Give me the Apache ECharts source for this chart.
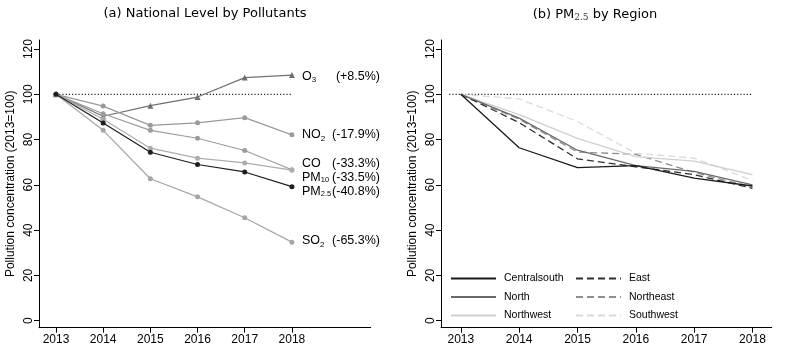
<!DOCTYPE html>
<html><head><meta charset="utf-8">
<script src="https://cdn.jsdelivr.net/npm/echarts@6/dist/echarts.min.js"></script>
<style>html,body{margin:0;padding:0;background:#fff}#c{width:786px;height:349px}</style>
</head><body><div id="c"></div><script>
// ---------- data ----------
const years = [2013, 2014, 2015, 2016, 2017, 2018];
const yTicks = [0, 20, 40, 60, 80, 100, 120];
// Panel (a): national level by pollutant (2013 = 100)
const o3   = [100, 90.3, 95.0, 98.8, 107.4, 108.5];
const no2  = [100, 94.8, 86.3, 87.4, 89.7, 82.1];
const co   = [100, 91.4, 84.1, 80.6, 75.2, 66.7];
const pm10 = [100, 89.0, 76.2, 71.8, 69.7, 66.5];
const pm25 = [100, 87.3, 74.4, 69.0, 65.7, 59.2];
const so2  = [100, 84.1, 62.7, 54.7, 45.5, 34.7];
const pollutantNames = ['O3', 'NO2', 'CO', 'PM10', 'PM2.5', 'SO2'];
const pollutantLabels = ['{n|O}{s|3}', '{n|NO}{s|2}', '{n|CO}', '{n|PM}{t|10}', '{n|PM}{t|2.5}', '{n|SO}{s|2}'];
const pollutantChanges = ['(+8.5%)', '(-17.9%)', '(-33.3%)', '(-33.5%)', '(-40.8%)', '(-65.3%)'];
// Panel (b): PM2.5 by region
const regions = ['Centralsouth', 'North', 'Northwest', 'East', 'Northeast', 'Southwest'];
const centralsouth = [100, 76.4, 67.6, 68.5, 63.0, 59.5];
const north        = [100, 89.5, 75.3, 68.5, 66.0, 60.0];
const northwest    = [100, 91.0, 80.5, 72.5, 70.5, 64.5];
const east         = [100, 87.5, 71.5, 68.0, 64.5, 58.5];
const northeast    = [100, 89.0, 74.5, 73.5, 65.5, 59.0];
const southwest    = [100, 98.0, 88.0, 74.0, 71.8, 62.0];
const refLevel = 100;
const refSpanA = [2013, 2018];
const refSpanB = [2012.8, 2018];

// ---------- chart ----------
const FONT = 'Arial';
const chart = echarts.init(document.getElementById('c'), null, {renderer: 'canvas'});
const pair = arr => arr.map((v, i) => [years[i], v]);

function xAxis(idx, min, max) {
  return {
    type: 'value', gridIndex: idx, min: min, max: max,
    axisLine: {show: true, onZero: false, lineStyle: {color: '#000', width: 1}},
    axisTick: {show: true, customValues: years, length: 5, lineStyle: {color: '#000'}},
    axisLabel: {customValues: years, color: '#000', fontFamily: FONT, fontSize: 12, margin: 6,
      formatter: v => String(v)},
    splitLine: {show: false}
  };
}
function yAxis(idx) {
  return {
    type: 'value', gridIndex: idx, min: -3.1, max: 124,
    name: 'Pollution concentration (2013=100)', nameLocation: 'middle', nameGap: 22,
    nameTextStyle: {color: '#000', fontFamily: FONT, fontSize: 12},
    axisLine: {show: true, onZero: false, lineStyle: {color: '#000', width: 1}},
    axisTick: {show: true, customValues: yTicks, length: 5, lineStyle: {color: '#000'}},
    axisLabel: {customValues: yTicks, rotate: 90, color: '#000', fontFamily: FONT, fontSize: 12, margin: 4},
    splitLine: {show: false}
  };
}

const aColors = ['#707070', '#9a9a9a', '#9c9c9c', '#adadad', '#1e1e1e', '#a6a6a6'];
const aData = [o3, no2, co, pm10, pm25, so2];
const aSeries = aData.map((d, i) => ({
  name: pollutantNames[i], type: 'line', xAxisIndex: 0, yAxisIndex: 0,
  data: pair(d), symbol: i === 0 ? 'triangle' : 'circle', symbolSize: i === 0 ? 6 : 5,
  lineStyle: {color: aColors[i], width: 1.2}, itemStyle: {color: aColors[i]},
  z: i === 4 ? 5 : 3, silent: true, animation: false
}));
const aOrdered = [aSeries[5], aSeries[0], aSeries[1], aSeries[2], aSeries[3], aSeries[4]];

const bStyles = [
  {c: '#1a1a1a', t: 'solid'}, {c: '#6a6a6a', t: 'solid'}, {c: '#cfcfcf', t: 'solid'},
  {c: '#2e2e2e', t: [7, 4]}, {c: '#8e8e8e', t: [7, 4]}, {c: '#dadada', t: [7, 4]}
];
const bData = [centralsouth, north, northwest, east, northeast, southwest];
const bSeries = bData.map((d, i) => ({
  name: regions[i], type: 'line', xAxisIndex: 1, yAxisIndex: 1,
  data: pair(d), symbol: 'none', showSymbol: false,
  lineStyle: {color: bStyles[i].c, width: 1.3, type: bStyles[i].t},
  itemStyle: {color: bStyles[i].c}, z: 10 - i, animation: false
}));

const refA = {type: 'line', xAxisIndex: 0, yAxisIndex: 0, symbol: 'none', silent: true, animation: false,
  data: refSpanA.map(x => [x, refLevel]), lineStyle: {color: '#222', width: 1.2, type: [1.2, 2]}, z: 1};
const refB = {type: 'line', xAxisIndex: 1, yAxisIndex: 1, symbol: 'none', silent: true, animation: false,
  data: refSpanB.map(x => [x, refLevel]), lineStyle: {color: '#222', width: 1.2, type: [1.2, 2]}, z: 1};

const labelY = [76.7, 135, 163.3, 177.7, 191.7, 241];
const rich = {
  n: {fontFamily: FONT, fontSize: 12.5, fill: '#000'},
  s: {fontFamily: FONT, fontSize: 8, fill: '#000', padding: [7, 0, 0, 0]},
  t: {fontFamily: FONT, fontSize: 7.5, fill: '#000', padding: [5, 0, 0, 0]}
};
const graphics = [];
pollutantLabels.forEach((lab, i) => {
  graphics.push({type: 'text', x: 302, y: labelY[i], silent: true,
    style: {text: lab, rich: rich, verticalAlign: 'middle', align: 'left'}});
  graphics.push({type: 'text', x: 380, y: labelY[i], silent: true,
    style: {text: pollutantChanges[i], fontFamily: FONT, fontSize: 12.5, fill: '#000',
      verticalAlign: 'middle', align: 'right'}});
});

const legendCommon = {
  orient: 'vertical', itemWidth: 45, itemHeight: 10, itemGap: 7.5,
  itemStyle: {opacity: 0},
  textStyle: {fontFamily: FONT, fontSize: 10.5, color: '#000', padding: [0, 0, 0, 3]},
  selectedMode: false
};

chart.setOption({
  backgroundColor: '#fff',
  animation: false,
  title: [
    {text: '(a) National Level by Pollutants', left: 200, top: 2, textAlign: 'center',
      textStyle: {fontFamily: '"DejaVu Sans", sans-serif', fontSize: 13, fontWeight: 'normal', color: '#000'}},
    {text: '(b) PM{s|2.5} by Region', left: 590, top: 2, textAlign: 'center',
      textStyle: {fontFamily: '"DejaVu Sans", sans-serif', fontSize: 13, fontWeight: 'normal', color: '#000',
        rich: {s: {fontFamily: '"DejaVu Serif", serif', fontSize: 9, color: '#333', padding: [6, 0, 0, 0]}}}}
  ],
  grid: [
    {left: 39, right: 415.3, top: 40, bottom: 21.3},
    {left: 441, right: 14.3, top: 40, bottom: 21.3}
  ],
  xAxis: [xAxis(0, 2012.64, 2019.67), xAxis(1, 2012.66, 2018.33)],
  yAxis: [yAxis(0), yAxis(1)],
  legend: [
    Object.assign({}, legendCommon, {left: 445, top: 268, data: regions.slice(0, 3)}),
    Object.assign({}, legendCommon, {left: 570, top: 268, data: regions.slice(3)})
  ],
  graphic: graphics,
  series: [refA, refB].concat(aOrdered, bSeries)
});
</script></body></html>
